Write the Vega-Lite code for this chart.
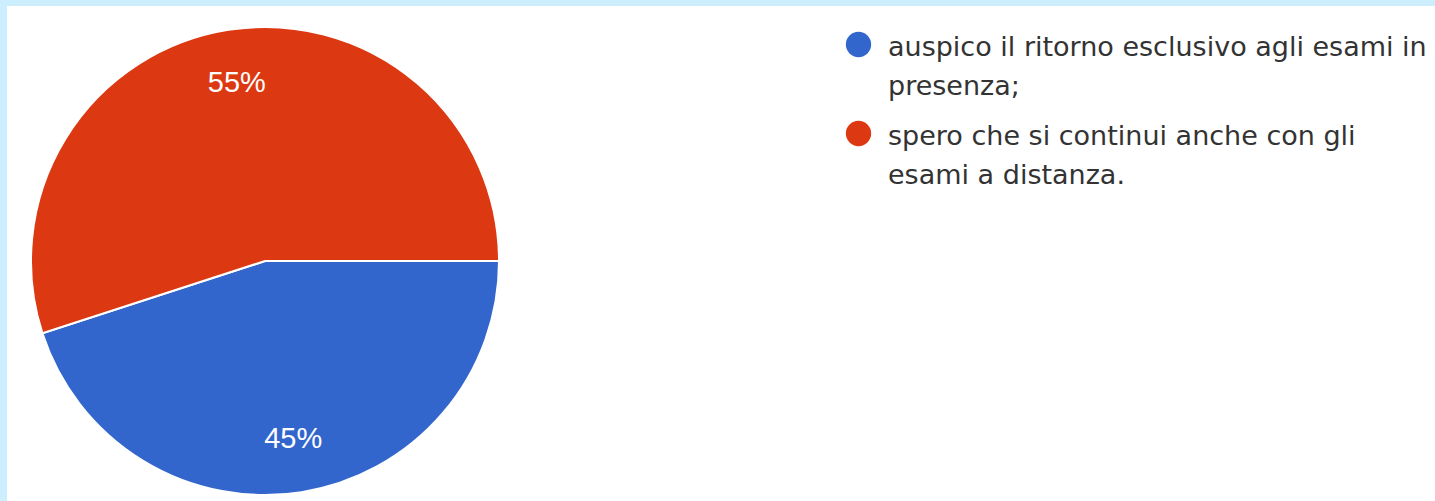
{
  "$schema": "https://vega.github.io/schema/vega-lite/v6.json",
  "width": 1428,
  "height": 495,
  "autosize": "none",
  "padding": {"left": 7, "top": 6, "right": 0, "bottom": 0},
  "background": "#cdeefd",
  "view": {"fill": "white", "stroke": null},
  "config": {"style": {"guide-label": {"lineHeight": 39, "dy": -10}}},
  "data": {
    "values": [
      {"risposta": "auspico il ritorno esclusivo agli esami in presenza;", "percentuale": 45, "etichetta": "45%"},
      {"risposta": "spero che si continui anche con gli esami a distanza.", "percentuale": 55, "etichetta": "55%"}
    ]
  },
  "encoding": {
    "theta": {"field": "percentuale", "type": "quantitative", "stack": true, "scale": {"range": [1.5708, 7.854]}},
    "color": {
      "field": "risposta",
      "type": "nominal",
      "scale": {"domain": ["auspico il ritorno esclusivo agli esami in presenza;", "spero che si continui anche con gli esami a distanza."], "range": ["#3366cc", "#dc3912"]},
      "legend": {
        "title": null,
        "orient": "none",
        "legendX": 838,
        "legendY": 25,
        "symbolType": "circle",
        "symbolSize": 640,
        "symbolStrokeWidth": 0,
        "labelFont": "DejaVu Sans",
        "labelFontSize": 27,
        "labelColor": "#333333",
        "labelLimit": 0,
        "labelOffset": 16,
        "labelBaseline": "top",
        "labelExpr": "datum.label == 'auspico il ritorno esclusivo agli esami in presenza;' ? ['auspico il ritorno esclusivo agli esami in', 'presenza;'] : ['spero che si continui anche con gli', 'esami a distanza.']",
        "rowPadding": 20
      }
    }
  },
  "layer": [
    {"mark": {"type": "arc", "x": 258, "y": 255, "outerRadius": 234, "stroke": "white", "strokeWidth": 2}},
    {
      "mark": {"type": "text", "x": 258, "y": 255, "radius": 180, "fill": "white", "font": "Liberation Sans", "fontSize": 29},
      "encoding": {"text": {"field": "etichetta"}, "color": {"value": "white"}}
    }
  ]
}
